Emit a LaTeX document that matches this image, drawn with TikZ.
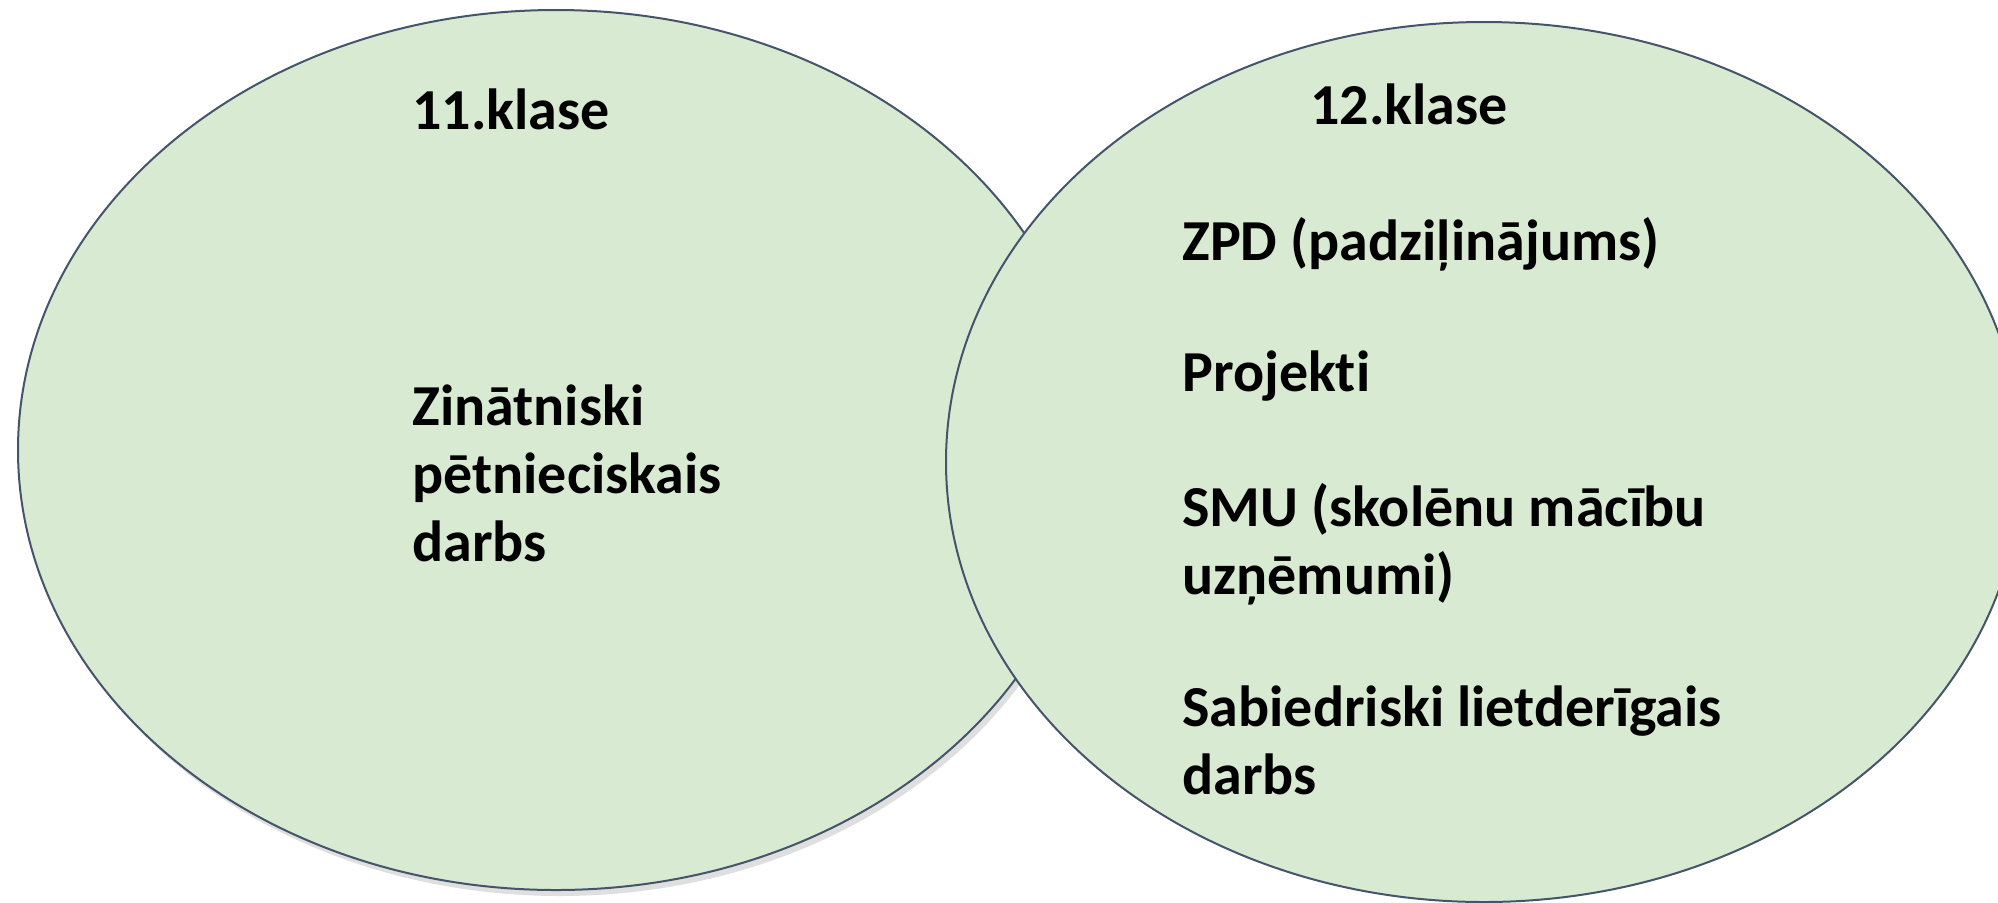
\documentclass[tikz,border=0pt]{standalone}
\usepackage{fontspec}
\setmainfont{Carlito}[Ligatures=NoCommon]
\usetikzlibrary{shadows,shapes.geometric}
\definecolor{vfill}{HTML}{D9EAD3}
\definecolor{vline}{HTML}{44546A}
\tikzset{
  venn/.style={ellipse, draw=vline, line width=1pt, fill=vfill, minimum width=538pt, minimum height=440pt, inner sep=0pt},
  lbl/.style={anchor=base west, inner sep=0pt, align=left, font=\fontsize{29}{34}\selectfont\bfseries, text=black}
}
\begin{document}
\begin{tikzpicture}[x=0.5pt,y=-0.5pt]
\useasboundingbox (0,0) rectangle (1998,902);
\clip (0,0) rectangle (1998,902);
\node[venn, drop shadow={opacity=0.25, shadow xshift=2pt, shadow yshift=-3pt}] (left) at (556,450) {};
\node[venn] (right) at (1484,462) {};
\node[lbl] (t11) at (412,129) {11.klase};
\node[lbl] (t12) at (1310,124) {12.klase};
\node[lbl] (zin) at (412,561) {Zinātniski\\pētnieciskais\\darbs};
\node[lbl] (zpd) at (1182,260) {ZPD (padziļinājums)};
\node[lbl] (proj) at (1182,391) {Projekti};
\node[lbl] (smu) at (1182,594) {SMU (skolēnu mācību\\uzņēmumi)};
\node[lbl] (sab) at (1182,794) {Sabiedriski lietderīgais\\darbs};
\end{tikzpicture}
\end{document}
